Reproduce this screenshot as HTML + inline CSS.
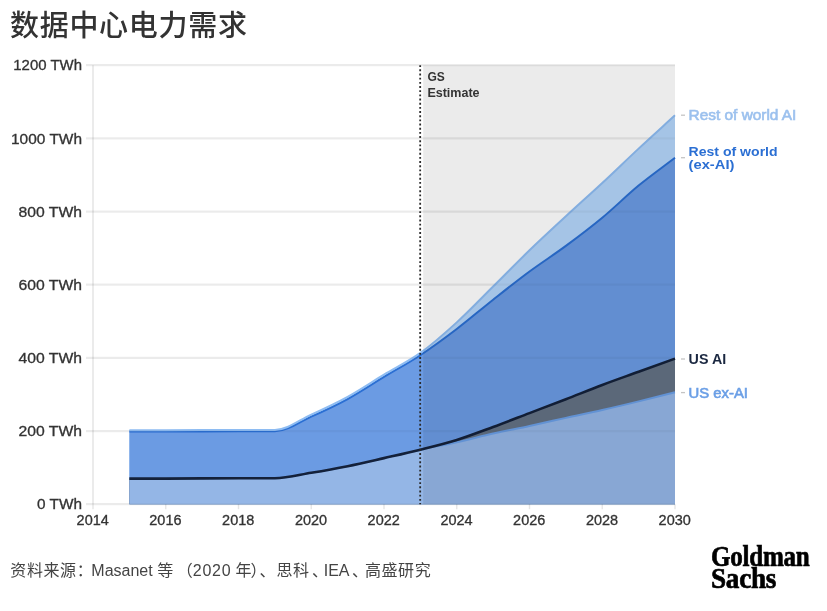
<!DOCTYPE html>
<html lang="zh-CN"><head><meta charset="utf-8"><title>数据中心电力需求</title>
<style>
html,body{margin:0;padding:0;background:#fff}
body{width:827px;height:611px;position:relative;overflow:hidden;filter:blur(0.45px);font-family:"Liberation Sans","Noto Sans CJK SC",sans-serif}
.title{position:absolute;left:10px;top:4.5px;font-size:29px;line-height:42px;font-weight:500;color:#333;white-space:nowrap;letter-spacing:0.7px}
.src span{position:absolute;top:0}
.src span.i{position:static}
.src{position:absolute;left:0;top:559px;font-size:16px;line-height:24px;color:#444;white-space:nowrap;letter-spacing:0.6px}
.logo{position:absolute;left:711px;top:545px;-webkit-text-stroke:0.7px #000;font-family:"Liberation Serif","Times New Roman",serif;font-weight:bold;font-size:30px;line-height:22px;color:#000;transform:scaleX(0.835);transform-origin:0 0;white-space:nowrap;letter-spacing:-0.3px}
</style></head><body>
<div class="title">数据中心电力需求</div>
<svg width="827" height="611" viewBox="0 0 827 611" style="position:absolute;left:0;top:0">
<line x1="86" x2="675.00" y1="504.20" y2="504.20" stroke="#000" stroke-opacity="0.045" stroke-width="2.2"/>
<line x1="86" x2="675.00" y1="431.03" y2="431.03" stroke="#000" stroke-opacity="0.045" stroke-width="2.2"/>
<line x1="86" x2="675.00" y1="357.87" y2="357.87" stroke="#000" stroke-opacity="0.045" stroke-width="2.2"/>
<line x1="86" x2="675.00" y1="284.70" y2="284.70" stroke="#000" stroke-opacity="0.045" stroke-width="2.2"/>
<line x1="86" x2="675.00" y1="211.54" y2="211.54" stroke="#000" stroke-opacity="0.045" stroke-width="2.2"/>
<line x1="86" x2="675.00" y1="138.37" y2="138.37" stroke="#000" stroke-opacity="0.045" stroke-width="2.2"/>
<line x1="86" x2="675.00" y1="65.20" y2="65.20" stroke="#000" stroke-opacity="0.045" stroke-width="2.2"/>
<path d="M129.38,430.30C141.50,430.30 153.62,430.30 165.75,430.30C177.88,430.30 190.00,430.18 202.12,430.12C214.25,430.06 226.38,429.94 238.50,429.94C250.62,429.94 262.75,429.94 274.88,429.94C287.00,429.94 299.12,420.09 311.25,414.57C323.38,409.05 335.50,403.47 347.62,396.83C359.75,390.18 371.88,382.01 384.00,374.70C396.12,367.38 408.25,361.65 420.38,352.93C432.50,344.21 444.62,333.45 456.75,322.38C468.88,311.32 481.00,298.54 493.12,286.53C505.25,274.52 517.38,262.02 529.50,250.31C541.62,238.61 553.75,227.51 565.88,216.29C578.00,205.07 590.12,194.28 602.25,183.00C614.38,171.72 626.50,159.89 638.62,148.61C650.75,137.33 662.88,126.42 675.00,115.32L675.00,504.20 L129.38,504.20 Z" fill="#b3d5fa"/>
<path d="M129.38,431.58C141.50,431.58 153.62,431.58 165.75,431.58C177.88,431.58 190.00,431.46 202.12,431.40C214.25,431.34 226.38,431.22 238.50,431.22C250.62,431.22 262.75,431.22 274.88,431.22C287.00,431.22 299.12,421.95 311.25,416.58C323.38,411.22 335.50,405.64 347.62,399.02C359.75,392.41 371.88,384.21 384.00,376.89C396.12,369.57 408.25,363.11 420.38,355.12C432.50,347.14 444.62,338.20 456.75,328.97C468.88,319.73 481.00,309.27 493.12,299.70C505.25,290.13 517.38,280.49 529.50,271.53C541.62,262.57 553.75,254.89 565.88,245.92C578.00,236.96 590.12,227.82 602.25,217.76C614.38,207.69 626.50,195.56 638.62,185.56C650.75,175.56 662.88,167.03 675.00,157.76L675.00,504.20 L129.38,504.20 Z" fill="#6b9be3"/>
<path d="M129.38,478.59C141.50,478.59 153.62,478.59 165.75,478.59C177.88,478.59 190.00,478.47 202.12,478.41C214.25,478.35 226.38,478.23 238.50,478.23C250.62,478.23 262.75,478.23 274.88,478.23C287.00,478.23 299.12,474.75 311.25,472.74C323.38,470.73 335.50,468.59 347.62,466.15C359.75,463.71 371.88,460.85 384.00,458.11C396.12,455.36 408.25,452.71 420.38,449.69C432.50,446.67 444.62,443.78 456.75,440.00C468.88,436.22 481.00,431.49 493.12,427.01C505.25,422.53 517.38,417.74 529.50,413.11C541.62,408.47 553.75,403.90 565.88,399.21C578.00,394.51 590.12,389.51 602.25,384.94C614.38,380.37 626.50,376.16 638.62,371.77C650.75,367.38 662.88,362.99 675.00,358.60L675.00,504.20 L129.38,504.20 Z" fill="#637184"/>
<path d="M129.38,478.59C141.50,478.59 153.62,478.59 165.75,478.59C177.88,478.59 190.00,478.47 202.12,478.41C214.25,478.35 226.38,478.23 238.50,478.23C250.62,478.23 262.75,478.23 274.88,478.23C287.00,478.23 299.12,474.75 311.25,472.74C323.38,470.73 335.50,468.59 347.62,466.15C359.75,463.71 371.88,460.85 384.00,458.11C396.12,455.36 408.25,452.34 420.38,449.69C432.50,447.04 444.62,444.87 456.75,442.19C468.88,439.51 481.00,436.31 493.12,433.59C505.25,430.88 517.38,428.53 529.50,425.91C541.62,423.29 553.75,420.52 565.88,417.86C578.00,415.21 590.12,412.74 602.25,410.00C614.38,407.26 626.50,404.36 638.62,401.40C650.75,398.44 662.88,395.30 675.00,392.26L675.00,504.20 L129.38,504.20 Z" fill="#94b6e6"/>
<path d="M129.38,431.58C141.50,431.58 153.62,431.58 165.75,431.58C177.88,431.58 190.00,431.46 202.12,431.40C214.25,431.34 226.38,431.22 238.50,431.22C250.62,431.22 262.75,431.22 274.88,431.22C287.00,431.22 299.12,421.95 311.25,416.58C323.38,411.22 335.50,405.64 347.62,399.02C359.75,392.41 371.88,384.21 384.00,376.89C396.12,369.57 408.25,363.11 420.38,355.12C432.50,347.14 444.62,338.20 456.75,328.97C468.88,319.73 481.00,309.27 493.12,299.70C505.25,290.13 517.38,280.49 529.50,271.53C541.62,262.57 553.75,254.89 565.88,245.92C578.00,236.96 590.12,227.82 602.25,217.76C614.38,207.69 626.50,195.56 638.62,185.56C650.75,175.56 662.88,167.03 675.00,157.76" fill="none" stroke="#2b6fd3" stroke-width="2"/>
<path d="M129.38,430.30C141.50,430.30 153.62,430.30 165.75,430.30C177.88,430.30 190.00,430.18 202.12,430.12C214.25,430.06 226.38,429.94 238.50,429.94C250.62,429.94 262.75,429.94 274.88,429.94C287.00,429.94 299.12,420.09 311.25,414.57C323.38,409.05 335.50,403.47 347.62,396.83C359.75,390.18 371.88,382.01 384.00,374.70C396.12,367.38 408.25,361.65 420.38,352.93C432.50,344.21 444.62,333.45 456.75,322.38C468.88,311.32 481.00,298.54 493.12,286.53C505.25,274.52 517.38,262.02 529.50,250.31C541.62,238.61 553.75,227.51 565.88,216.29C578.00,205.07 590.12,194.28 602.25,183.00C614.38,171.72 626.50,159.89 638.62,148.61C650.75,137.33 662.88,126.42 675.00,115.32" fill="none" stroke="#8ebcf2" stroke-width="2"/>
<path d="M129.38,478.59C141.50,478.59 153.62,478.59 165.75,478.59C177.88,478.59 190.00,478.47 202.12,478.41C214.25,478.35 226.38,478.23 238.50,478.23C250.62,478.23 262.75,478.23 274.88,478.23C287.00,478.23 299.12,474.75 311.25,472.74C323.38,470.73 335.50,468.59 347.62,466.15C359.75,463.71 371.88,460.85 384.00,458.11C396.12,455.36 408.25,452.34 420.38,449.69C432.50,447.04 444.62,444.87 456.75,442.19C468.88,439.51 481.00,436.31 493.12,433.59C505.25,430.88 517.38,428.53 529.50,425.91C541.62,423.29 553.75,420.52 565.88,417.86C578.00,415.21 590.12,412.74 602.25,410.00C614.38,407.26 626.50,404.36 638.62,401.40C650.75,398.44 662.88,395.30 675.00,392.26" fill="none" stroke="#6b9fe6" stroke-width="2"/>
<path d="M129.38,478.59C141.50,478.59 153.62,478.59 165.75,478.59C177.88,478.59 190.00,478.47 202.12,478.41C214.25,478.35 226.38,478.23 238.50,478.23C250.62,478.23 262.75,478.23 274.88,478.23C287.00,478.23 299.12,474.75 311.25,472.74C323.38,470.73 335.50,468.59 347.62,466.15C359.75,463.71 371.88,460.85 384.00,458.11C396.12,455.36 408.25,452.71 420.38,449.69C432.50,446.67 444.62,443.78 456.75,440.00C468.88,436.22 481.00,431.49 493.12,427.01C505.25,422.53 517.38,417.74 529.50,413.11C541.62,408.47 553.75,403.90 565.88,399.21C578.00,394.51 590.12,389.51 602.25,384.94C614.38,380.37 626.50,376.16 638.62,371.77C650.75,367.38 662.88,362.99 675.00,358.60" fill="none" stroke="#14213a" stroke-width="2.6"/>
<rect x="423.20" y="65.2" width="251.80" height="439.00" fill="#000" fill-opacity="0.08"/>
<line x1="86" x2="675.00" y1="504.20" y2="504.20" stroke="#000" stroke-opacity="0.035" stroke-width="2.2"/>
<line x1="86" x2="675.00" y1="431.03" y2="431.03" stroke="#000" stroke-opacity="0.035" stroke-width="2.2"/>
<line x1="86" x2="675.00" y1="357.87" y2="357.87" stroke="#000" stroke-opacity="0.035" stroke-width="2.2"/>
<line x1="86" x2="675.00" y1="284.70" y2="284.70" stroke="#000" stroke-opacity="0.035" stroke-width="2.2"/>
<line x1="86" x2="675.00" y1="211.54" y2="211.54" stroke="#000" stroke-opacity="0.035" stroke-width="2.2"/>
<line x1="86" x2="675.00" y1="138.37" y2="138.37" stroke="#000" stroke-opacity="0.035" stroke-width="2.2"/>
<line x1="86" x2="675.00" y1="65.20" y2="65.20" stroke="#000" stroke-opacity="0.035" stroke-width="2.2"/>
<line x1="93" x2="93" y1="65.2" y2="504.20" stroke="#000" stroke-opacity="0.1" stroke-width="1.6"/>
<line x1="93.00" x2="93.00" y1="504.20" y2="509.20" stroke="#000" stroke-opacity="0.1" stroke-width="1.4"/>
<line x1="165.75" x2="165.75" y1="504.20" y2="509.20" stroke="#000" stroke-opacity="0.1" stroke-width="1.4"/>
<line x1="238.50" x2="238.50" y1="504.20" y2="509.20" stroke="#000" stroke-opacity="0.1" stroke-width="1.4"/>
<line x1="311.25" x2="311.25" y1="504.20" y2="509.20" stroke="#000" stroke-opacity="0.1" stroke-width="1.4"/>
<line x1="384.00" x2="384.00" y1="504.20" y2="509.20" stroke="#000" stroke-opacity="0.1" stroke-width="1.4"/>
<line x1="456.75" x2="456.75" y1="504.20" y2="509.20" stroke="#000" stroke-opacity="0.1" stroke-width="1.4"/>
<line x1="529.50" x2="529.50" y1="504.20" y2="509.20" stroke="#000" stroke-opacity="0.1" stroke-width="1.4"/>
<line x1="602.25" x2="602.25" y1="504.20" y2="509.20" stroke="#000" stroke-opacity="0.1" stroke-width="1.4"/>
<line x1="675.00" x2="675.00" y1="504.20" y2="509.20" stroke="#000" stroke-opacity="0.1" stroke-width="1.4"/>
<line x1="420.18" x2="420.18" y1="65.2" y2="504.20" stroke="#2a2a2a" stroke-width="1.8" stroke-dasharray="1.9 2.27"/>
<line x1="681" x2="685" y1="115.2" y2="115.2" stroke="#c4c4c4" stroke-width="1.3"/>
<line x1="681" x2="685" y1="157.7" y2="157.7" stroke="#c4c4c4" stroke-width="1.3"/>
<line x1="681" x2="685" y1="359.0" y2="359.0" stroke="#c4c4c4" stroke-width="1.3"/>
<line x1="681" x2="685" y1="392.6" y2="392.6" stroke="#c4c4c4" stroke-width="1.3"/>
<text x="37.0" y="509.3" font-size="14" fill="#333" text-anchor="start" font-weight="normal" font-family="Liberation Sans, Arial, sans-serif" stroke="#333" stroke-width="0.3" textLength="45.0" lengthAdjust="spacingAndGlyphs">0 TWh</text>
<text x="18.5" y="436.1" font-size="14" fill="#333" text-anchor="start" font-weight="normal" font-family="Liberation Sans, Arial, sans-serif" stroke="#333" stroke-width="0.3" textLength="63.5" lengthAdjust="spacingAndGlyphs">200 TWh</text>
<text x="18.5" y="363.0" font-size="14" fill="#333" text-anchor="start" font-weight="normal" font-family="Liberation Sans, Arial, sans-serif" stroke="#333" stroke-width="0.3" textLength="63.5" lengthAdjust="spacingAndGlyphs">400 TWh</text>
<text x="18.5" y="289.8" font-size="14" fill="#333" text-anchor="start" font-weight="normal" font-family="Liberation Sans, Arial, sans-serif" stroke="#333" stroke-width="0.3" textLength="63.5" lengthAdjust="spacingAndGlyphs">600 TWh</text>
<text x="18.5" y="216.6" font-size="14" fill="#333" text-anchor="start" font-weight="normal" font-family="Liberation Sans, Arial, sans-serif" stroke="#333" stroke-width="0.3" textLength="63.5" lengthAdjust="spacingAndGlyphs">800 TWh</text>
<text x="11.0" y="143.5" font-size="14" fill="#333" text-anchor="start" font-weight="normal" font-family="Liberation Sans, Arial, sans-serif" stroke="#333" stroke-width="0.3" textLength="71.0" lengthAdjust="spacingAndGlyphs">1000 TWh</text>
<text x="13.3" y="70.3" font-size="14" fill="#333" text-anchor="start" font-weight="normal" font-family="Liberation Sans, Arial, sans-serif" stroke="#333" stroke-width="0.3" textLength="68.7" lengthAdjust="spacingAndGlyphs">1200 TWh</text>
<text x="76.6" y="525.4" font-size="14" fill="#333" text-anchor="start" font-weight="normal" font-family="Liberation Sans, Arial, sans-serif" stroke="#333" stroke-width="0.3" textLength="32.2" lengthAdjust="spacingAndGlyphs">2014</text>
<text x="149.3" y="525.4" font-size="14" fill="#333" text-anchor="start" font-weight="normal" font-family="Liberation Sans, Arial, sans-serif" stroke="#333" stroke-width="0.3" textLength="32.2" lengthAdjust="spacingAndGlyphs">2016</text>
<text x="222.1" y="525.4" font-size="14" fill="#333" text-anchor="start" font-weight="normal" font-family="Liberation Sans, Arial, sans-serif" stroke="#333" stroke-width="0.3" textLength="32.2" lengthAdjust="spacingAndGlyphs">2018</text>
<text x="294.9" y="525.4" font-size="14" fill="#333" text-anchor="start" font-weight="normal" font-family="Liberation Sans, Arial, sans-serif" stroke="#333" stroke-width="0.3" textLength="32.2" lengthAdjust="spacingAndGlyphs">2020</text>
<text x="367.6" y="525.4" font-size="14" fill="#333" text-anchor="start" font-weight="normal" font-family="Liberation Sans, Arial, sans-serif" stroke="#333" stroke-width="0.3" textLength="32.2" lengthAdjust="spacingAndGlyphs">2022</text>
<text x="440.4" y="525.4" font-size="14" fill="#333" text-anchor="start" font-weight="normal" font-family="Liberation Sans, Arial, sans-serif" stroke="#333" stroke-width="0.3" textLength="32.2" lengthAdjust="spacingAndGlyphs">2024</text>
<text x="513.1" y="525.4" font-size="14" fill="#333" text-anchor="start" font-weight="normal" font-family="Liberation Sans, Arial, sans-serif" stroke="#333" stroke-width="0.3" textLength="32.2" lengthAdjust="spacingAndGlyphs">2026</text>
<text x="585.9" y="525.4" font-size="14" fill="#333" text-anchor="start" font-weight="normal" font-family="Liberation Sans, Arial, sans-serif" stroke="#333" stroke-width="0.3" textLength="32.2" lengthAdjust="spacingAndGlyphs">2028</text>
<text x="658.6" y="525.4" font-size="14" fill="#333" text-anchor="start" font-weight="normal" font-family="Liberation Sans, Arial, sans-serif" stroke="#333" stroke-width="0.3" textLength="32.2" lengthAdjust="spacingAndGlyphs">2030</text>
<text x="427.4" y="81.0" font-size="12" fill="#333" text-anchor="start" font-weight="bold" font-family="Liberation Sans, Arial, sans-serif">GS</text>
<text x="427.4" y="97.3" font-size="12" fill="#333" text-anchor="start" font-weight="bold" font-family="Liberation Sans, Arial, sans-serif" textLength="52.2" lengthAdjust="spacingAndGlyphs">Estimate</text>
<text x="688.6" y="120.4" font-size="14" fill="#9cc1ee" text-anchor="start" font-weight="normal" font-family="Liberation Sans, Arial, sans-serif" stroke="#9cc1ee" stroke-width="0.6" textLength="107.8" lengthAdjust="spacingAndGlyphs">Rest of world AI</text>
<text x="688.6" y="156.3" font-size="13.5" fill="#2b6fd3" text-anchor="start" font-weight="bold" font-family="Liberation Sans, Arial, sans-serif" textLength="89.0" lengthAdjust="spacingAndGlyphs">Rest of world</text>
<text x="688.6" y="169.0" font-size="13.5" fill="#2b6fd3" text-anchor="start" font-weight="bold" font-family="Liberation Sans, Arial, sans-serif" textLength="45.8" lengthAdjust="spacingAndGlyphs">(ex-AI)</text>
<text x="688.6" y="364.4" font-size="14" fill="#1a2740" text-anchor="start" font-weight="bold" font-family="Liberation Sans, Arial, sans-serif" textLength="37.6" lengthAdjust="spacingAndGlyphs">US AI</text>
<text x="688.6" y="397.7" font-size="14" fill="#6b9fe6" text-anchor="start" font-weight="normal" font-family="Liberation Sans, Arial, sans-serif" stroke="#6b9fe6" stroke-width="0.6" textLength="59.4" lengthAdjust="spacingAndGlyphs">US ex-AI</text>
</svg>
<div class="src"><span style="left:10.3px">资料来源：</span><span style="left:91.3px;letter-spacing:0">Masanet </span><span style="left:157.2px">等</span><span style="left:176.7px;letter-spacing:0"><span class="i" style="letter-spacing:0">（</span><span class="i" style="letter-spacing:0.8px">2020 </span></span><span style="left:235.6px;letter-spacing:-1.2px">年）</span><span style="left:259.5px">、</span><span style="left:276.4px">思科</span><span style="left:312px">、</span><span style="left:323.7px;letter-spacing:0">IEA</span><span style="left:352px">、</span><span style="left:364.9px">高盛研究</span></div>
<div class="logo">Goldman<br><span style="display:inline-block;transform:scaleX(1.085);transform-origin:0 0">Sachs</span></div>
</body></html>
